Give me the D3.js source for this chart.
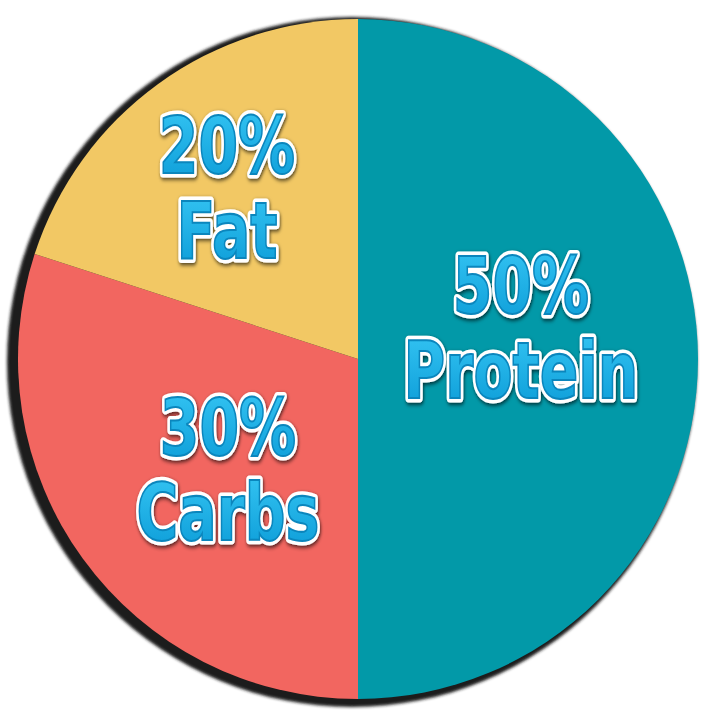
<!DOCTYPE html>
<html>
<head>
<meta charset="utf-8">
<script src="https://cdn.jsdelivr.net/npm/d3@7"></script>
<style>
  html, body { margin: 0; padding: 0; background: #fff; }
  svg { display: block; }
  .lbl { font-family: "DejaVu Sans", sans-serif; font-weight: bold; font-size: 78px; }
</style>
</head>
<body>
<div id="chart"></div>
<script>
const categories = ['Protein', 'Carbs', 'Fat'];
const values = [50, 30, 20];
const colors = ['#0299a8', '#f26660', '#f2c864'];

const width = 712, height = 721;
const cx = 358, cy = 359, radius = 340;

// where each label block sits (layout, not data)
const labelAt = { Protein: [521, 328], Carbs: [228, 470], Fat: [227, 188] };
const squeeze = 0.73;

const svg = d3.select('#chart').append('svg').attr('width', width).attr('height', height);
const defs = svg.append('defs');

const grad = defs.append('linearGradient').attr('id', 'txtgrad').attr('x1', 0).attr('y1', 0).attr('x2', 0).attr('y2', 1);
grad.append('stop').attr('offset', '0%').attr('stop-color', '#36c6f4');
grad.append('stop').attr('offset', '100%').attr('stop-color', '#0a9ad6');

const blur = defs.append('filter').attr('id', 'soft').attr('x', '-10%').attr('y', '-10%').attr('width', '120%').attr('height', '120%');
blur.append('feGaussianBlur').attr('stdDeviation', 1.5);

const tshadow = defs.append('filter').attr('id', 'tshadow').attr('x', '-20%').attr('y', '-20%').attr('width', '140%').attr('height', '140%');
tshadow.append('feDropShadow').attr('dx', 1).attr('dy', 2).attr('stdDeviation', 2).attr('flood-color', '#000').attr('flood-opacity', 0.7);

// dark rim / shadow behind the pie
svg.append('circle')
  .attr('cx', cx - 6).attr('cy', cy + 3).attr('r', radius + 5)
  .attr('fill', '#1a1a1a')
  .attr('filter', 'url(#soft)');

const g = svg.append('g').attr('transform', `translate(${cx},${cy})`);

const pie = d3.pie().sort(null).value(d => d.value);
const arc = d3.arc().innerRadius(0).outerRadius(radius);
const data = categories.map((c, i) => ({ name: c, value: values[i], color: colors[i] }));

g.selectAll('path.slice')
  .data(pie(data))
  .enter()
  .append('path')
  .attr('class', 'slice')
  .attr('d', arc)
  .attr('fill', d => d.data.color);

// labels
const labels = svg.selectAll('g.label')
  .data(pie(data))
  .enter()
  .append('g')
  .attr('class', 'label')
  .attr('transform', d => `translate(${labelAt[d.data.name][0]},${labelAt[d.data.name][1]}) scale(${squeeze},1)`);

labels.each(function (d) {
  const lines = [d.data.value + '%', d.data.name];
  const sel = d3.select(this);
  lines.forEach((t, i) => {
    const y = i === 0 ? -15 : 70;
    sel.append('text').attr('class', 'lbl').attr('text-anchor', 'middle').attr('y', y)
      .attr('fill', '#fff').attr('stroke', '#fff').attr('stroke-width', 9)
      .attr('stroke-linejoin', 'round').attr('filter', 'url(#tshadow)').text(t);
    sel.append('text').attr('class', 'lbl').attr('text-anchor', 'middle').attr('y', y)
      .attr('fill', 'url(#txtgrad)').attr('stroke', '#0b86bd').attr('stroke-width', 2)
      .text(t);
  });
});
</script>
</body>
</html>
